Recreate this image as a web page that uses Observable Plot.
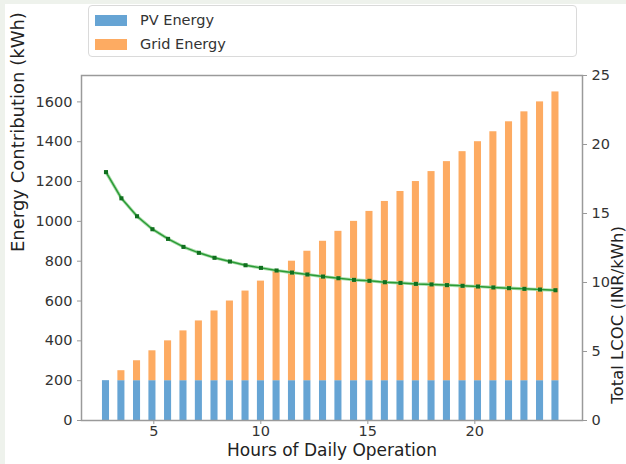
<!DOCTYPE html>
<html>
<head>
<meta charset="utf-8">
<script src="https://cdn.jsdelivr.net/npm/d3@7"></script>
<script src="https://cdn.jsdelivr.net/npm/@observablehq/plot@0.6"></script>
<style>
  html, body { margin: 0; padding: 0; background: #ffffff; }
  #wrap { position: relative; width: 626px; height: 464px; overflow: hidden; font-family: "DejaVu Sans", sans-serif; }
  #edge { position: absolute; left: 0; top: 0; width: 626px; height: 464px; box-sizing: border-box; border-left: 5px solid #eef2ec; border-top: 4px solid #eef2ec; pointer-events: none; }
  #legend { position: absolute; left: 88px; top: 5px; width: 489px; height: 52px; box-sizing: border-box; border: 1px solid #dadada; border-radius: 4px; background: #fff; }
  .item { position: absolute; left: 6px; height: 20px; display: flex; align-items: center; font-size: 14.5px; color: #333; }
  .sw { width: 32px; height: 11px; margin-right: 13px; }
</style>
</head>
<body>
<div id="wrap">
  <div id="chart"></div>
  <div id="legend"></div>
  <div id="edge"></div>
</div>
<script>
// Hours of daily operation (30 evenly spaced runs from 3 h to 24 h)
const hours = [3.00, 3.72, 4.45, 5.17, 5.90, 6.62, 7.34, 8.07, 8.79, 9.52,
               10.24, 10.97, 11.69, 12.41, 13.14, 13.86, 14.59, 15.31, 16.03, 16.76,
               17.48, 18.21, 18.93, 19.66, 20.38, 21.10, 21.83, 22.55, 23.28, 24.00];
// PV energy (kWh)
const pvEnergy = [200, 200, 200, 200, 200, 200, 200, 200, 200, 200,
                  200, 200, 200, 200, 200, 200, 200, 200, 200, 200,
                  200, 200, 200, 200, 200, 200, 200, 200, 200, 200];
// Grid energy (kWh)
const gridEnergy = [0, 50, 100, 150, 200, 250, 300, 350, 400, 450,
                    500, 550, 600, 650, 700, 750, 800, 850, 900, 950,
                    1000, 1050, 1100, 1150, 1200, 1250, 1300, 1350, 1400, 1450];
// Total LCOC (INR/kWh)
const lcoc = [18.0, 16.1, 14.8, 13.86, 13.16, 12.58, 12.15, 11.79, 11.52, 11.25,
              11.06, 10.87, 10.72, 10.58, 10.43, 10.31, 10.19, 10.12, 10.02, 9.97,
              9.90, 9.86, 9.81, 9.76, 9.71, 9.64, 9.59, 9.54, 9.49, 9.44];
const seriesNames = ["PV Energy", "Grid Energy"];
const xTicks = [5, 10, 15, 20];
const yTicks = [0, 200, 400, 600, 800, 1000, 1200, 1400, 1600];
const y2Ticks = [0, 5, 10, 15, 20, 25];

const colors = {"PV Energy": "#66a4d4", "Grid Energy": "#fdab62"};
const yMax = 1732.5;          // left axis top
const y2Max = 25;             // right axis top
const k = yMax / y2Max;       // right-to-left scale factor
const hw = 0.165;             // half bar width in hours
const shift = -5;

const data = hours.map((h, i) => ({h, pv: pvEnergy[i], grid: gridEnergy[i], lcoc: lcoc[i]}));

const chart = Plot.plot({
  width: 626,
  height: 464,
  marginLeft: 81,
  marginRight: 44,
  marginTop: 75,
  marginBottom: 44,
  style: {fontFamily: "DejaVu Sans", fontSize: "14.5px", color: "#333", background: "white"},
  x: {domain: [1.622, 25.03]},
  y: {domain: [0, yMax]},
  marks: [
    Plot.rect(data, {x1: d => d.h - hw, x2: d => d.h + hw, y1: d => 0, y2: d => d.pv, fill: colors["PV Energy"], dx: shift}),
    Plot.rect(data, {x1: d => d.h - hw, x2: d => d.h + hw, y1: d => d.pv, y2: d => d.pv + d.grid, fill: colors["Grid Energy"], dx: shift}),
    Plot.line(data, {x: "h", y: d => d.lcoc * k, stroke: "#a8dca8", strokeWidth: 3.2, dx: shift}),
    Plot.line(data, {x: "h", y: d => d.lcoc * k, stroke: "#2b9b37", strokeWidth: 1.5, dx: shift}),
    Plot.dot(data, {x: "h", y: d => d.lcoc * k, symbol: "square", r: 2.3, fill: "#106f1f", dx: shift}),
    Plot.frame({stroke: "#9a9a9a", strokeWidth: 1.5}),
    Plot.axisX({ticks: xTicks, tickSize: 4, tickPadding: 1, label: null, stroke: "#999"}),
    Plot.axisY({ticks: yTicks, tickFormat: d => String(d), tickSize: 4, tickPadding: 5, label: null, stroke: "#999"}),
    Plot.axisY(y2Ticks.map(v => v * k), {anchor: "right", tickFormat: d => String(Math.round(d / k)), tickSize: 4, tickPadding: 5, label: null, stroke: "#999"}),
    Plot.text(["Hours of Daily Operation"], {frameAnchor: "bottom", dy: 35.5, fontSize: 17, fill: "#222"}),
    Plot.text(["Energy Contribution (kWh)"], {frameAnchor: "left", dx: -63, dy: 4, rotate: -90, fontSize: 18, fill: "#222"}),
    Plot.text(["Total LCOC (INR/kWh)"], {frameAnchor: "right", dx: 35, dy: -22, rotate: -90, fontSize: 16.5, fill: "#222"})
  ]
});
document.getElementById("chart").append(chart);

const legend = document.getElementById("legend");
seriesNames.forEach((name, i) => {
  const it = document.createElement("div");
  it.className = "item";
  it.style.top = (4 + i * 24) + "px";
  const sw = document.createElement("div");
  sw.className = "sw";
  sw.style.background = colors[name];
  const t = document.createElement("span");
  t.textContent = name;
  it.append(sw, t);
  legend.append(it);
});
</script>
</body>
</html>
